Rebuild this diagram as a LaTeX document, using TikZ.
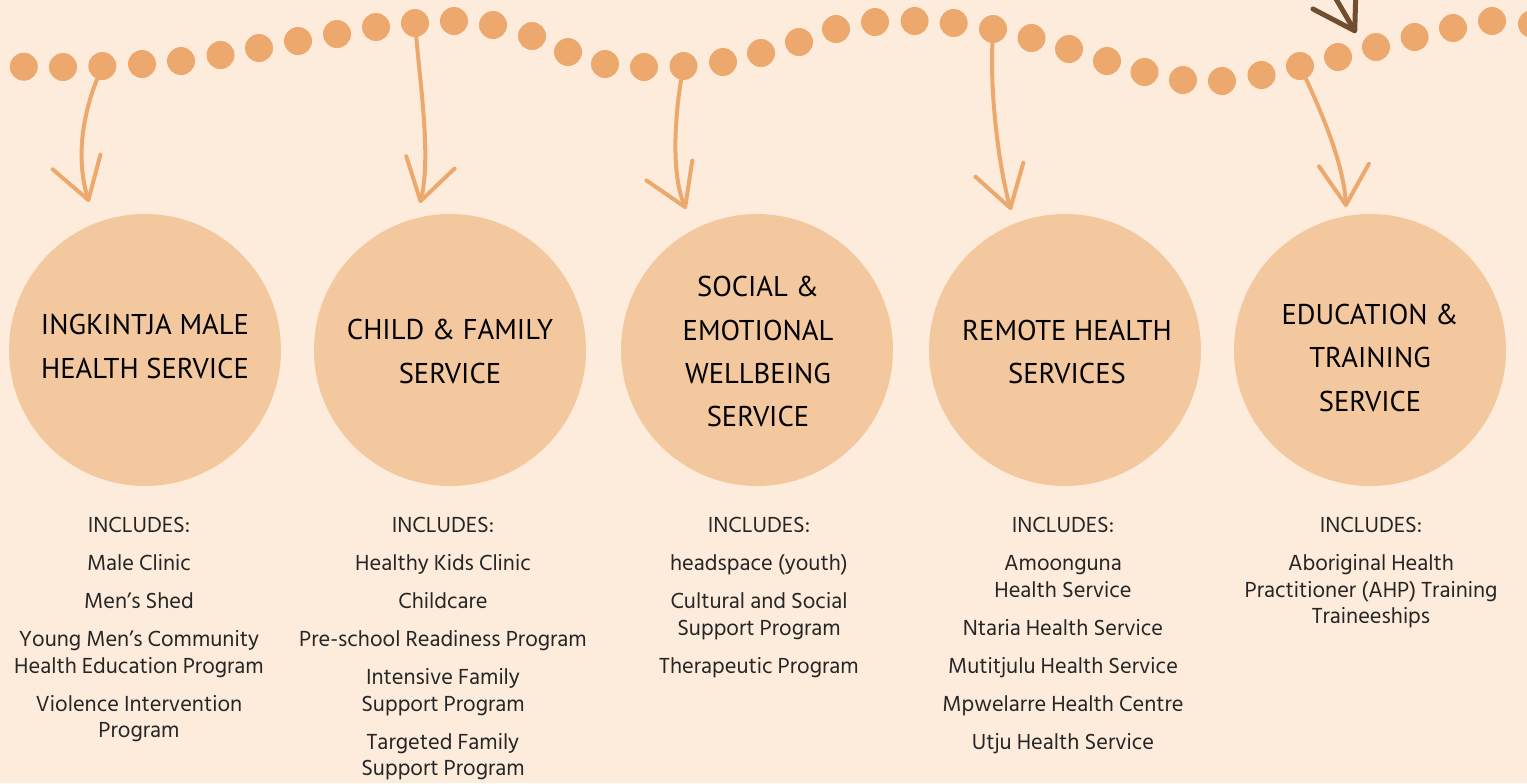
\documentclass[tikz,border=0pt]{standalone}
\usepackage{fontspec}
\setmainfont{PT Sans}
\newfontfamily\listfont{Hind Siliguri}
\usetikzlibrary{arrows.meta,positioning}
\definecolor{bgpeach}{HTML}{FDECDC}
\definecolor{dotorange}{HTML}{EDA86D}
\definecolor{circpeach}{HTML}{F3C89E}
\definecolor{arrowbrown}{HTML}{6F4E2F}
\definecolor{listgray}{HTML}{262626}
\begin{document}
\begin{tikzpicture}[x=0.5pt,y=-0.5pt,
  dot/.style={circle,fill=dotorange,inner sep=0pt,minimum size=14pt},
  service/.style={circle,fill=circpeach,inner sep=0pt,minimum size=136pt},
  title/.style={align=center,inner sep=0pt,text=black,font=\fontsize{14.3pt}{21.65pt}\selectfont},
  list/.style={align=center,anchor=north,inner sep=0pt,text=listgray,font=\listfont\fontsize{11.2pt}{13.25pt}\selectfont},
  flow/.style={draw=dotorange,line width=2pt,line cap=round,-{Straight Barb[length=20pt,width=25pt,round]}}]
  % Set the background
  \fill[bgpeach] (0,0) rectangle (1527,783);
  \clip (0,0) rectangle (1527,783);
  % Add the dotted path
  \foreach \x/\y [count=\i] in {23.8/66.7,63/67,102.3/66,142/64,181/61,220.5/55,259/48,298/41,
      337/34,376/27,415/23,454/21,493/25,532/36,568/52,605/64,644/67,683.5/66,723/62,761/53,
      799/42,836/29,875/22,914.6/21,953.7/23,993/29,1031.5/38,1069/49,1107/61,1144.5/72,
      1183/80,1222/81,1261.5/75,1300/66,1338/57,1376/47,1414.6/37,1453/28,1492/21,1532/24}
    \node[dot] (d\i) at (\x,\y) {};
  % Add the services
  \node[service] (ingkintja) at (145,350) {};
  \node[title] (ingkintja-title) at (145,346.5) {INGKINTJA MALE\\HEALTH SERVICE};
  \node[service] (family) at (450,350) {};
  \node[title] (family-title) at (450,351.5) {CHILD \& FAMILY\\SERVICE};
  \node[service] (wellbeing) at (757,350) {};
  \node[title] (wellbeing-title) at (758,351.7) {SOCIAL \&\\EMOTIONAL\\WELLBEING\\SERVICE};
  \node[service] (remote) at (1065,350) {};
  \node[title] (remote-title) at (1067,352) {REMOTE HEALTH\\SERVICES};
  \node[service] (education) at (1370,350) {};
  \node[title] (education-title) at (1370,357.8) {EDUCATION \&\\TRAINING\\SERVICE};
  % Add what each one includes
  \node[list] (ingkintja-list) at (139,517) {INCLUDES:\\[5.75pt]Male Clinic\\[5.75pt]Men’s Shed\\[5.75pt]Young Men’s Community\\Health Education Program\\[5.75pt]Violence Intervention\\Program};
  \node[list] (family-list) at (443,517) {INCLUDES:\\[5.75pt]Healthy Kids Clinic\\[5.75pt]Childcare\\[5.75pt]Pre-school Readiness Program\\[5.75pt]Intensive Family\\Support Program\\[5.75pt]Targeted Family\\Support Program};
  \node[list] (wellbeing-list) at (759,517) {INCLUDES:\\[5.75pt]headspace (youth)\\[5.75pt]Cultural and Social\\Support Program\\[5.75pt]Therapeutic Program};
  \node[list] (remote-list) at (1063,517) {INCLUDES:\\[5.75pt]Amoonguna\\Health Service\\[5.75pt]Ntaria Health Service\\[5.75pt]Mutitjulu Health Service\\[5.75pt]Mpwelarre Health Centre\\[5.75pt]Utju Health Service};
  \node[list] (education-list) at (1371,517) {INCLUDES:\\[5.75pt]Aboriginal Health\\Practitioner (AHP) Training\\Traineeships};
  % Add the arrows
  \coordinate (tip1) at (89,202);
  \draw[flow] (d3) .. controls (82,117) and (76,160) .. (tip1);
  \coordinate (tip2) at (420,203);
  \draw[flow] (d11) .. controls (421,90) and (431,160) .. (tip2);
  \coordinate (tip3) at (686,209);
  \draw[flow] (d18) .. controls (676,110) and (670,172) .. (tip3);
  \coordinate (tip4) at (1011,210);
  \draw[flow] (d26) .. controls (990,100) and (1000,172) .. (tip4);
  \coordinate (tip5) at (1346,207);
  \draw[flow] (d34) .. controls (1325,120) and (1344,167) .. (tip5);
  \coordinate (brown-start) at (1322,-25);
  \coordinate (brown-tip) at (1356,33);
  \draw[flow,draw=arrowbrown,line width=2.5pt] (brown-start) -- (brown-tip);
\end{tikzpicture}
\end{document}
